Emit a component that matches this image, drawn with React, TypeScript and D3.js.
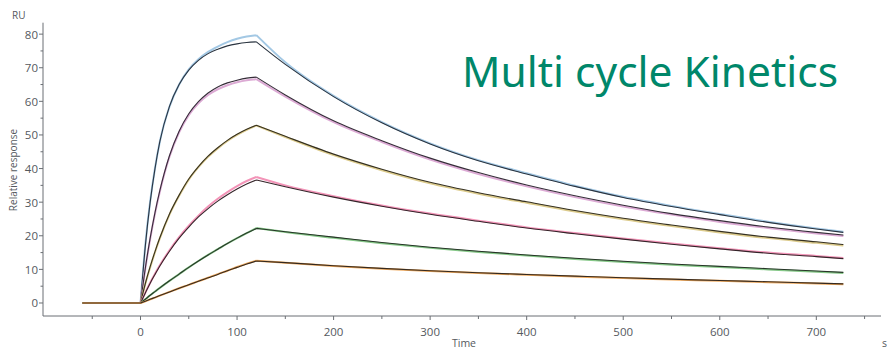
import React from "react";
import * as d3 from "d3";

// Sensorgram time grid (s): baseline, association and dissociation phases
const baselineTimes = [-60, 0];
const assocTimes = [0, 5, 10, 15, 20, 30, 40, 50, 60, 70, 80, 90, 100, 110, 120];
const dissocTimes = [120, 150, 200, 250, 300, 350, 400, 450, 500, 550, 600, 650, 700, 728];

// Fitted curves (RU), highest to lowest analyte concentration
const fit1A = [0, 17, 30, 40, 48, 58.5, 65, 69.3, 72.2, 74.2, 75.5, 76.5, 77.1, 77.5, 77.7];
const fit1D = [77.7, 71.0, 61.4, 53.6, 47.3, 42.3, 38.4, 34.7, 31.4, 28.7, 26.3, 24.0, 22.0, 21.0];
const fit2A = [0, 10.4, 19.3, 26.9, 33.4, 43.8, 51.1, 56.3, 59.9, 62.5, 64.3, 65.5, 66.3, 66.9, 67.2];
const fit2D = [67.2, 61.9, 54.2, 48.3, 43.1, 38.8, 35.1, 31.9, 29.1, 26.6, 24.5, 22.6, 21.0, 20.2];
const fit3A = [0, 5.8, 10.8, 15.3, 19.4, 26.5, 32.1, 36.9, 40.6, 43.7, 46.2, 48.4, 50.2, 51.7, 52.9];
const fit3D = [52.9, 49.6, 44.3, 39.8, 35.9, 32.8, 30.1, 27.5, 25.2, 23.2, 21.3, 19.6, 18.2, 17.4];
const fit4A = [0, 3.0, 5.9, 8.5, 11.0, 15.4, 19.3, 22.6, 25.6, 28.1, 30.3, 32.2, 33.9, 35.4, 36.6];
const fit4D = [36.6, 34.6, 31.5, 28.8, 26.4, 24.3, 22.3, 20.6, 19.0, 17.5, 16.1, 14.8, 13.8, 13.2];
const fit5A = [0, 1.1, 2.3, 3.4, 4.5, 6.6, 8.6, 10.6, 12.5, 14.3, 16.0, 17.7, 19.3, 20.8, 22.2];
const fit5D = [22.2, 21.2, 19.6, 18.0, 16.6, 15.4, 14.3, 13.3, 12.4, 11.6, 10.9, 10.2, 9.5, 9.1];
const fit6A = [0, 0.55, 1.1, 1.65, 2.2, 3.3, 4.4, 5.4, 6.5, 7.5, 8.5, 9.6, 10.6, 11.6, 12.5];
const fit6D = [12.5, 12.0, 11.1, 10.3, 9.6, 9.0, 8.5, 8.0, 7.5, 7.1, 6.7, 6.3, 5.9, 5.7];

// Measured responses (RU)
const data1A = [0, 17.3, 30.2, 40.1, 48.0, 58.4, 65.0, 69.5, 72.5, 74.7, 76.3, 77.6, 78.6, 79.3, 79.7];
const data1D = [79.7, 71.6, 61.6, 53.8, 47.5, 42.5, 38.6, 34.9, 31.6, 28.9, 26.5, 24.2, 22.2, 21.2];
const data2A = [0, 10.2, 19.0, 26.6, 33.1, 43.5, 50.8, 55.9, 59.4, 61.9, 63.6, 64.8, 65.7, 66.3, 66.6];
const data2D = [66.6, 61.4, 53.8, 47.9, 42.7, 38.4, 34.7, 31.5, 28.7, 26.3, 24.1, 22.3, 20.7, 19.9];
const data3A = [0, 5.7, 10.6, 15.1, 19.2, 26.3, 31.9, 36.7, 40.4, 43.5, 46.0, 48.2, 50.0, 51.5, 52.8];
const data3D = [52.8, 49.4, 44.0, 39.5, 35.6, 32.5, 29.8, 27.2, 24.9, 22.9, 21.0, 19.3, 17.9, 17.1];
const data4A = [0, 3.1, 6.0, 8.7, 11.2, 15.7, 19.6, 23.0, 26.0, 28.7, 31.0, 33.0, 34.8, 36.3, 37.5];
const data4D = [37.5, 35.0, 31.8, 29.0, 26.6, 24.5, 22.5, 20.8, 19.2, 17.7, 16.3, 15.0, 14.0, 13.4];
const data5A = [0, 1.1, 2.3, 3.4, 4.5, 6.6, 8.6, 10.6, 12.5, 14.3, 16.0, 17.7, 19.3, 20.8, 22.3];
const data5D = [22.3, 21.1, 19.4, 17.8, 16.4, 15.2, 14.1, 13.1, 12.2, 11.4, 10.7, 10.0, 9.3, 8.9];
const data6A = [0, 0.5, 1.1, 1.6, 2.2, 3.3, 4.4, 5.4, 6.5, 7.5, 8.6, 9.6, 10.7, 11.7, 12.6];
const data6D = [12.6, 12.0, 11.0, 10.2, 9.5, 8.9, 8.4, 7.9, 7.4, 7.0, 6.6, 6.2, 5.8, 5.6];

const dataColors = ["#a3c8e4", "#dcaad4", "#dccb8c", "#f394b8", "#86c888", "#efa85a"];
const fitColors = ["#2a3440", "#352c38", "#353020", "#35252a", "#273528", "#352a20"];

// Axis ticks
const xMajorTicks = [0, 100, 200, 300, 400, 500, 600, 700];
const xMinorTicks = [-50, 50, 150, 250, 350, 450, 550, 650, 750];
const yMajorTicks = [0, 10, 20, 30, 40, 50, 60, 70, 80];
const yMinorTicks = [5, 15, 25, 35, 45, 55, 65, 75];

const W = 887;
const H = 349;

export default function App() {
  const x = d3.scaleLinear().domain([-101, 767]).range([43, 881]);
  const y = d3.scaleLinear().domain([-3.87, 83.4]).range([316, 22.7]);

  const smooth = d3
    .line<[number, number]>()
    .x((d) => x(d[0]))
    .y((d) => y(d[1]))
    .curve(d3.curveMonotoneX);
  const straight = d3
    .line<[number, number]>()
    .x((d) => x(d[0]))
    .y((d) => y(d[1]));

  const trace = (a: number[], d: number[]) => {
    const base = straight(baselineTimes.map((t) => [t, 0] as [number, number])) || "";
    const assoc = smooth(assocTimes.map((t, i) => [t, a[i]] as [number, number])) || "";
    const dissoc = smooth(dissocTimes.map((t, i) => [t, d[i]] as [number, number])) || "";
    return base + assoc + dissoc;
  };

  const series = [
    { data: [data1A, data1D], fit: [fit1A, fit1D] },
    { data: [data2A, data2D], fit: [fit2A, fit2D] },
    { data: [data3A, data3D], fit: [fit3A, fit3D] },
    { data: [data4A, data4D], fit: [fit4A, fit4D] },
    { data: [data5A, data5D], fit: [fit5A, fit5D] },
    { data: [data6A, data6D], fit: [fit6A, fit6D] },
  ];

  const font = "'Open Sans', 'DejaVu Sans', sans-serif";
  const axisColor = "#6b6f74";
  const textColor = "#55595e";
  const xAxisY = 316;
  const yAxisX = 43;

  return (
    <svg
      width={W}
      height={H}
      viewBox={`0 0 ${W} ${H}`}
      style={{ position: "absolute", left: 0, top: 0, background: "#fff" }}
    >
      {/* axes */}
      <line x1={yAxisX} x2={881} y1={xAxisY} y2={xAxisY} stroke={axisColor} strokeWidth={1} />
      <line x1={yAxisX} x2={yAxisX} y1={22.7} y2={xAxisY} stroke={axisColor} strokeWidth={1} />

      {xMajorTicks.map((t) => (
        <g key={"xm" + t}>
          <line x1={x(t)} x2={x(t)} y1={xAxisY} y2={xAxisY + 4} stroke={axisColor} />
          <text
            x={x(t)}
            y={336}
            textAnchor="middle"
            fontFamily={font}
            fontSize={11.5}
            fill={textColor}
          >
            {t}
          </text>
        </g>
      ))}
      {xMinorTicks.map((t) => (
        <line key={"xn" + t} x1={x(t)} x2={x(t)} y1={xAxisY} y2={xAxisY + 3} stroke={axisColor} />
      ))}

      {yMajorTicks.map((v) => (
        <g key={"ym" + v}>
          <line x1={yAxisX - 4} x2={yAxisX} y1={y(v)} y2={y(v)} stroke={axisColor} />
          <text
            x={yAxisX - 5}
            y={y(v)}
            textAnchor="end"
            dominantBaseline="central"
            fontFamily={font}
            fontSize={11.5}
            fill={textColor}
          >
            {v}
          </text>
        </g>
      ))}
      {yMinorTicks.map((v) => (
        <line key={"yn" + v} x1={yAxisX - 2.5} x2={yAxisX} y1={y(v)} y2={y(v)} stroke={axisColor} />
      ))}

      <text x={12} y={19} fontFamily={font} fontSize={10} fill={textColor}>
        RU
      </text>
      <text
        transform={`translate(17,${170}) rotate(-90)`}
        textAnchor="middle"
        fontFamily={font}
        fontSize={10}
        fill={textColor}
      >
        Relative response
      </text>
      <text x={464} y={347} textAnchor="middle" fontFamily={font} fontSize={10.5} fill={textColor}>
        Time
      </text>
      <text x={882} y={347} fontFamily={font} fontSize={10.5} fill={textColor}>
        s
      </text>

      {/* sensorgrams: measured (coloured) under fitted (dark) */}
      {series.map((s, i) => (
        <g key={"s" + i}>
          <path
            d={trace(s.data[0], s.data[1])}
            fill="none"
            stroke={dataColors[i]}
            strokeWidth={2}
            strokeLinejoin="round"
          />
          <path
            d={trace(s.fit[0], s.fit[1])}
            fill="none"
            stroke={fitColors[i]}
            strokeWidth={1.1}
            strokeLinejoin="round"
          />
        </g>
      ))}

      <text
        x={462}
        y={87}
        fontFamily="'Noto Sans', 'Open Sans', sans-serif"
        fontSize={41}
        fill="#00876a"
        textLength={376}
        lengthAdjust="spacingAndGlyphs"
      >
        Multi cycle Kinetics
      </text>
    </svg>
  );
}
